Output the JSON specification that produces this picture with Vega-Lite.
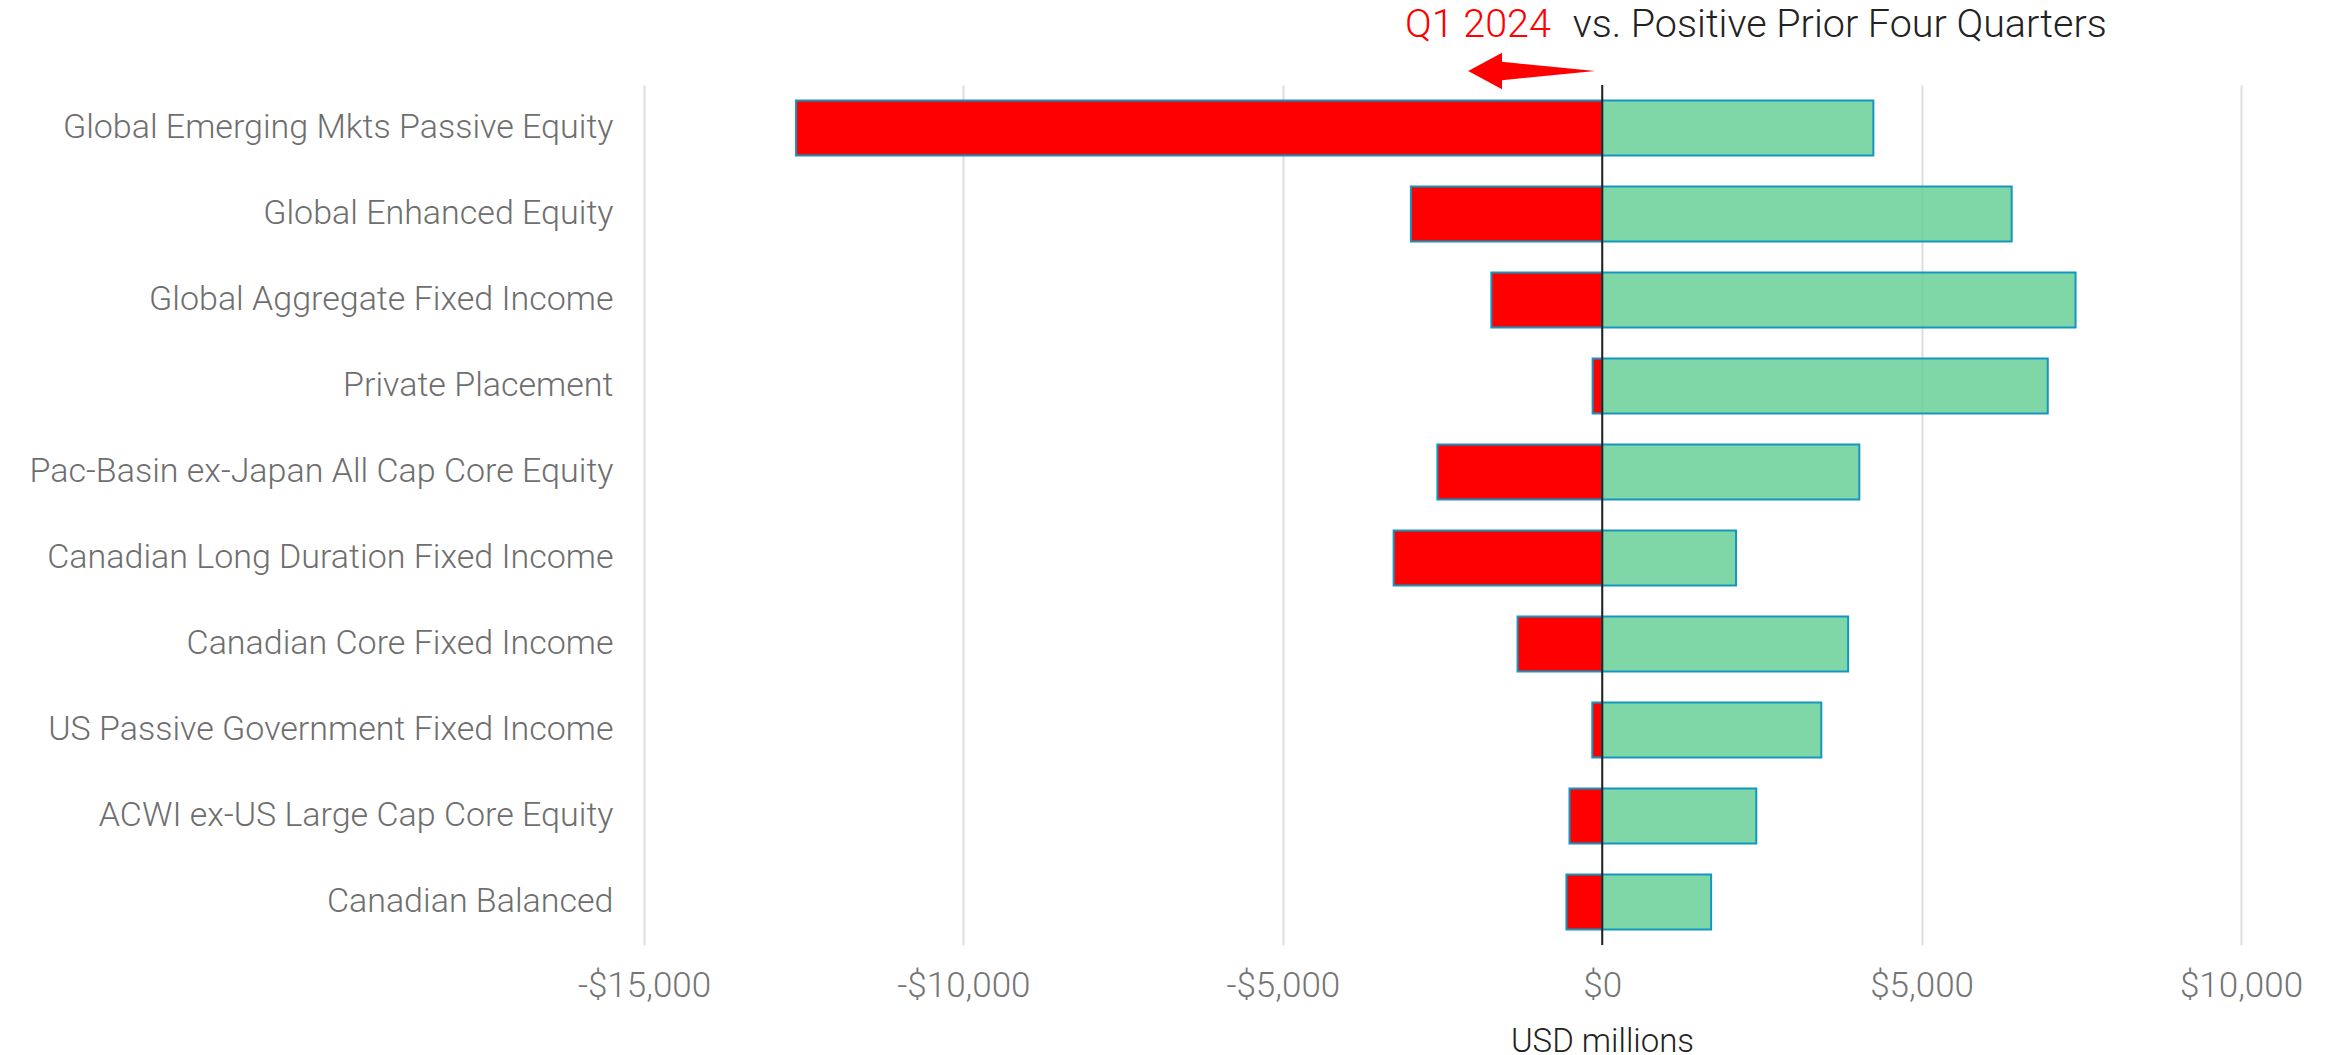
{
  "$schema": "https://vega.github.io/schema/vega-lite/v6.json",
  "autosize": "none",
  "width": 1597,
  "height": 860,
  "padding": {"left": 644, "top": 85, "right": 92, "bottom": 110},
  "background": "white",
  "config": {"view": {"stroke": null}, "font": "Roboto"},
  "datasets": {
    "flows": [
      {"category": "Global Emerging Mkts Passive Equity", "period": "Q1 2024", "value": -12620},
      {"category": "Global Emerging Mkts Passive Equity", "period": "Prior Four Quarters", "value": 4245},
      {"category": "Global Enhanced Equity", "period": "Q1 2024", "value": -2995},
      {"category": "Global Enhanced Equity", "period": "Prior Four Quarters", "value": 6410},
      {"category": "Global Aggregate Fixed Income", "period": "Q1 2024", "value": -1735},
      {"category": "Global Aggregate Fixed Income", "period": "Prior Four Quarters", "value": 7410},
      {"category": "Private Placement", "period": "Q1 2024", "value": -150},
      {"category": "Private Placement", "period": "Prior Four Quarters", "value": 6975},
      {"category": "Pac-Basin ex-Japan All Cap Core Equity", "period": "Q1 2024", "value": -2580},
      {"category": "Pac-Basin ex-Japan All Cap Core Equity", "period": "Prior Four Quarters", "value": 4025},
      {"category": "Canadian Long Duration Fixed Income", "period": "Q1 2024", "value": -3265},
      {"category": "Canadian Long Duration Fixed Income", "period": "Prior Four Quarters", "value": 2095},
      {"category": "Canadian Core Fixed Income", "period": "Q1 2024", "value": -1325},
      {"category": "Canadian Core Fixed Income", "period": "Prior Four Quarters", "value": 3850},
      {"category": "US Passive Government Fixed Income", "period": "Q1 2024", "value": -155},
      {"category": "US Passive Government Fixed Income", "period": "Prior Four Quarters", "value": 3430},
      {"category": "ACWI ex-US Large Cap Core Equity", "period": "Q1 2024", "value": -512},
      {"category": "ACWI ex-US Large Cap Core Equity", "period": "Prior Four Quarters", "value": 2412},
      {"category": "Canadian Balanced", "period": "Q1 2024", "value": -560},
      {"category": "Canadian Balanced", "period": "Prior Four Quarters", "value": 1705}
    ],
    "notes": [
      {"note": "Q1 2024", "part": "period"},
      {"note": "vs. Positive Prior Four Quarters", "part": "comparison"}
    ]
  },
  "layer": [
    {
      "data": {"name": "flows"},
      "mark": {"type": "bar", "stroke": "#1496c0", "strokeWidth": 2},
      "encoding": {
        "y": {
          "field": "category",
          "type": "nominal",
          "sort": [
            "Global Emerging Mkts Passive Equity",
            "Global Enhanced Equity",
            "Global Aggregate Fixed Income",
            "Private Placement",
            "Pac-Basin ex-Japan All Cap Core Equity",
            "Canadian Long Duration Fixed Income",
            "Canadian Core Fixed Income",
            "US Passive Government Fixed Income",
            "ACWI ex-US Large Cap Core Equity",
            "Canadian Balanced"
          ],
          "scale": {"paddingInner": 0.36, "paddingOuter": 0.18},
          "axis": {
            "title": null,
            "domain": false,
            "ticks": false,
            "tickSize": 0,
            "grid": false,
            "labelPadding": 31,
            "labelFont": "Roboto",
            "labelFontSize": 34,
            "labelFontWeight": 300,
            "labelColor": "#6e6e6e",
            "labelLimit": 1000
          }
        },
        "x": {
          "field": "value",
          "type": "quantitative",
          "stack": null,
          "scale": {"domain": [-15000, 10000], "nice": false},
          "axis": {
            "title": "USD millions",
            "values": [-15000, -10000, -5000, 0, 5000, 10000],
            "labelExpr": "(datum.value < 0 ? '-' : '') + '$' + format(abs(datum.value), ',')",
            "labelFlush": false,
            "labelOverlap": false,
            "grid": true,
            "gridColor": "#dddddd",
            "gridWidth": 2,
            "domain": false,
            "ticks": false,
            "tickSize": 0,
            "labelFont": "Roboto",
            "labelFontSize": 35,
            "labelFontWeight": 300,
            "labelColor": "#757575",
            "labelBaseline": "middle",
            "labelPadding": 40,
            "titleFont": "Roboto",
            "titleFontSize": 33,
            "titleFontWeight": 300,
            "titleColor": "#222222",
            "titleX": 958,
            "titleY": 96,
            "titleAlign": "center",
            "titleBaseline": "middle"
          }
        },
        "fill": {
          "field": "period",
          "type": "nominal",
          "scale": {"domain": ["Q1 2024", "Prior Four Quarters"], "range": ["#ff0000", "#6ad19a"]},
          "legend": null
        },
        "fillOpacity": {
          "field": "period",
          "type": "nominal",
          "scale": {"domain": ["Q1 2024", "Prior Four Quarters"], "range": [1, 0.86]},
          "legend": null
        }
      }
    },
    {
      "data": {"values": [{"line": "zero"}]},
      "mark": {"type": "rule", "color": "#222222", "strokeWidth": 2},
      "encoding": {"x": {"datum": 0}}
    },
    {
      "data": {"values": [{"arrow": "left"}]},
      "mark": {
        "type": "point",
        "shape": "M -1 0 L -0.467 -0.287 L -0.467 -0.144 L 1 0 L -0.467 0.144 L -0.467 0.287 Z",
        "size": 16129,
        "filled": true,
        "color": "#ff0000",
        "opacity": 1,
        "strokeWidth": 0,
        "clip": false
      },
      "encoding": {"x": {"datum": -1104}, "yOffset": {"value": -444}}
    },
    {
      "data": {"name": "notes"},
      "transform": [{"filter": "datum.part === 'period'"}],
      "mark": {"type": "text", "align": "right", "baseline": "alphabetic", "font": "Roboto", "fontSize": 39.5, "fontWeight": 300, "color": "#ff0000", "clip": false, "dy": -478},
      "encoding": {"x": {"datum": -803}, "text": {"field": "note"}}
    },
    {
      "data": {"name": "notes"},
      "transform": [{"filter": "datum.part === 'comparison'"}],
      "mark": {"type": "text", "align": "left", "baseline": "alphabetic", "font": "Roboto", "fontSize": 39.5, "fontWeight": 300, "color": "#222222", "clip": false, "dy": -478},
      "encoding": {"x": {"datum": -462}, "text": {"field": "note"}}
    }
  ]
}
